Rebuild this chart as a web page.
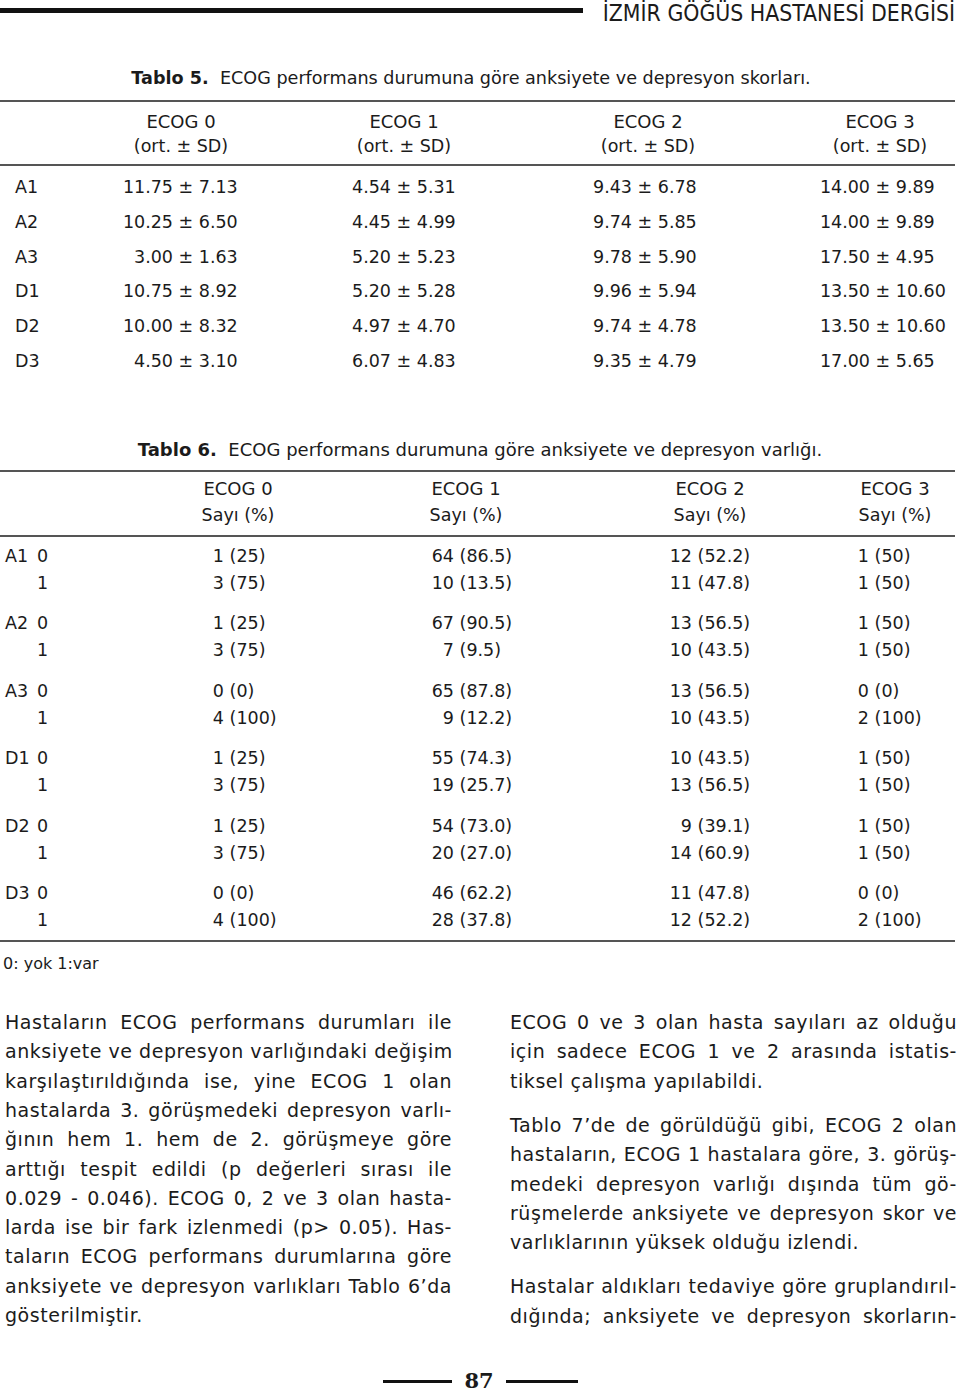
<!DOCTYPE html>
<html lang="tr">
<head>
<meta charset="utf-8">
<title>Tablo 5 - Tablo 6</title>
<script src="https://cdn.jsdelivr.net/npm/chart.js@4"></script>
<style>
  html, body { margin: 0; padding: 0; background: #fff; }
  #page { position: relative; width: 960px; height: 1392px; overflow: hidden; }
  .t {
    position: absolute; line-height: 24px; white-space: pre;
    font-family: "DejaVu Sans", sans-serif; font-size: 17.5px; color: #1b1b1b;
  }
  .rule { position: absolute; left: 0; width: 955px; height: 2px; background: #555; }
  .line {
    position: absolute; white-space: nowrap; text-align: justify; text-align-last: justify;
    font-size: 19px; letter-spacing: 0.55px;
  }
  .line.last { text-align-last: left; }
</style>
</head>
<body>
<div id="page"></div>
<script>
// Tablo 5: ortalama ± SD
const t5Rows = ['A1', 'A2', 'A3', 'D1', 'D2', 'D3'];
const ecogCols = ['ECOG 0', 'ECOG 1', 'ECOG 2', 'ECOG 3'];
const t5Mean = [
  [11.75, 4.54, 9.43, 14.00],
  [10.25, 4.45, 9.74, 14.00],
  [3.00, 5.20, 9.78, 17.50],
  [10.75, 5.20, 9.96, 13.50],
  [10.00, 4.97, 9.74, 13.50],
  [4.50, 6.07, 9.35, 17.00]
];
const t5SD = [
  [7.13, 5.31, 6.78, 9.89],
  [6.50, 4.99, 5.85, 9.89],
  [1.63, 5.23, 5.90, 4.95],
  [8.92, 5.28, 5.94, 10.60],
  [8.32, 4.70, 4.78, 10.60],
  [3.10, 4.83, 4.79, 5.65]
];

// Tablo 6: sayı (%)
const t6Groups = ['A1', 'A2', 'A3', 'D1', 'D2', 'D3'];
const t6Levels = ['0', '1'];
const t6Count = [
  [1, 64, 12, 1], [3, 10, 11, 1],
  [1, 67, 13, 1], [3, 7, 10, 1],
  [0, 65, 13, 0], [4, 9, 10, 2],
  [1, 55, 10, 1], [3, 19, 13, 1],
  [1, 54, 9, 1], [3, 20, 14, 1],
  [0, 46, 11, 0], [4, 28, 12, 2]
];
const t6Pct = [
  [25, 86.5, 52.2, 50], [75, 13.5, 47.8, 50],
  [25, 90.5, 56.5, 50], [75, 9.5, 43.5, 50],
  [0, 87.8, 56.5, 0], [100, 12.2, 43.5, 100],
  [25, 74.3, 43.5, 50], [75, 25.7, 56.5, 50],
  [25, 73.0, 39.1, 50], [75, 27.0, 60.9, 50],
  [0, 62.2, 47.8, 0], [100, 37.8, 52.2, 100]
];
const t6PctDecimals = [0, 1, 1, 0];

const leftText = [
  'Hastaların ECOG performans durumları ile',
  'anksiyete ve depresyon varlığındaki değişim',
  'karşılaştırıldığında ise, yine ECOG 1 olan',
  'hastalarda 3. görüşmedeki depresyon varlı-',
  'ğının hem 1. hem de 2. görüşmeye göre',
  'arttığı tespit edildi (p değerleri sırası ile',
  '0.029 - 0.046). ECOG 0, 2 ve 3 olan hasta-',
  'larda ise bir fark izlenmedi (p> 0.05). Has-',
  'taların ECOG performans durumlarına göre',
  'anksiyete ve depresyon varlıkları Tablo 6’da',
  'gösterilmiştir.'
];
const rightText = [
  ['ECOG 0 ve 3 olan hasta sayıları az olduğu',
   'için sadece ECOG 1 ve 2 arasında istatis-',
   'tiksel çalışma yapılabildi.'],
  ['Tablo 7’de de görüldüğü gibi, ECOG 2 olan',
   'hastaların, ECOG 1 hastalara göre, 3. görüş-',
   'medeki depresyon varlığı dışında tüm gö-',
   'rüşmelerde anksiyete ve depresyon skor ve',
   'varlıklarının yüksek olduğu izlendi.'],
  ['Hastalar aldıkları tedaviye göre gruplandırıl-',
   'dığında; anksiyete ve depresyon skorların-']
];

const page = document.getElementById('page');

function put(s, x, y, o = {}) {
  const d = document.createElement('div');
  d.className = 't';
  if (o.html) d.innerHTML = s; else d.textContent = s;
  d.style.top = (y - 12) + 'px';
  if (o.align === 'center') {
    d.style.left = (x - 400) + 'px'; d.style.width = '800px'; d.style.textAlign = 'center';
  } else if (o.align === 'right') {
    d.style.left = (x - 600) + 'px'; d.style.width = '600px'; d.style.textAlign = 'right';
  } else {
    d.style.left = x + 'px';
  }
  if (o.size) d.style.fontSize = o.size + 'px';
  if (o.font) d.style.fontFamily = o.font;
  if (o.weight) d.style.fontWeight = o.weight;
  page.appendChild(d);
  return d;
}

function box(x, y, w, h, color) {
  const d = document.createElement('div');
  d.style.cssText = `position:absolute;left:${x}px;top:${y}px;width:${w}px;height:${h}px;background:${color}`;
  page.appendChild(d);
}

function rule(y) {
  const d = document.createElement('div');
  d.className = 'rule';
  d.style.top = y + 'px';
  page.appendChild(d);
}

// page header
box(0, 8, 583, 5, '#111');
put('İZMİR GÖĞÜS HASTANESİ DERGİSİ', 955, 13, {
  align: 'right', size: 22.8, font: '"Liberation Sans Narrow", "DejaVu Sans Condensed", sans-serif'
});

// Tablo 5
put('<b>Tablo 5.</b>  ECOG performans durumuna göre anksiyete ve depresyon skorları.', 471, 78,
  { align: 'center', html: true, size: 17.6 });
rule(100);
const t5HeadX = [181, 404, 648, 880];
const t5MeanRight = [173, 391, 632, 870];
ecogCols.forEach((c, j) => {
  put(c, t5HeadX[j], 122, { align: 'center', size: 18 });
  put('(ort. ± SD)', t5HeadX[j], 146, { align: 'center' });
});
rule(164);
t5Rows.forEach((r, i) => {
  const y = 187 + i * 34.8;
  put(r, 15, y);
  t5Mean[i].forEach((m, j) => {
    put(m.toFixed(2), t5MeanRight[j], y, { align: 'right' });
    put(' ± ' + t5SD[i][j].toFixed(2), t5MeanRight[j], y);
  });
});

// Tablo 6
put('<b>Tablo 6.</b>  ECOG performans durumuna göre anksiyete ve depresyon varlığı.', 480, 450,
  { align: 'center', html: true, size: 18 });
rule(470);
const t6HeadX = [238, 466, 710, 895];
const t6CountRight = [224, 454, 692, 869];
ecogCols.forEach((c, j) => {
  put(c, t6HeadX[j], 489, { align: 'center', size: 18 });
  put('Sayı (%)', t6HeadX[j], 515, { align: 'center' });
});
rule(535);
t6Groups.forEach((g, gi) => {
  t6Levels.forEach((lv, li) => {
    const k = gi * 2 + li;
    const y = 556 + gi * 67.4 + li * 27;
    if (li === 0) put(g, 5, y);
    put(lv, 37, y);
    t6Count[k].forEach((n, j) => {
      put(String(n), t6CountRight[j], y, { align: 'right' });
      put(' (' + t6Pct[k][j].toFixed(t6PctDecimals[j]) + ')', t6CountRight[j], y);
    });
  });
});
rule(940);
put('0: yok 1:var', 3, 964, { size: 16 });

// body text, two justified columns
function textLine(s, x, y, w, last) {
  const d = put(s, x, y);
  d.classList.add('line');
  if (last) d.classList.add('last');
  d.style.width = w + 'px';
}
leftText.forEach((s, i) => {
  textLine(s, 5, 1022 + i * 29.3, 447, i === leftText.length - 1);
});
let ry = 1022;
rightText.forEach((para, pi) => {
  para.forEach((s, i) => {
    textLine(s, 510, ry, 447, pi < 2 && i === para.length - 1);
    ry += 29.3;
  });
  ry += 15;
});

// page number
box(383, 1380, 69, 3, '#111');
box(506, 1380, 72, 3, '#111');
put('87', 479, 1381, { align: 'center', size: 21, weight: 'bold', font: '"DejaVu Serif", serif' });
</script>
</body>
</html>
